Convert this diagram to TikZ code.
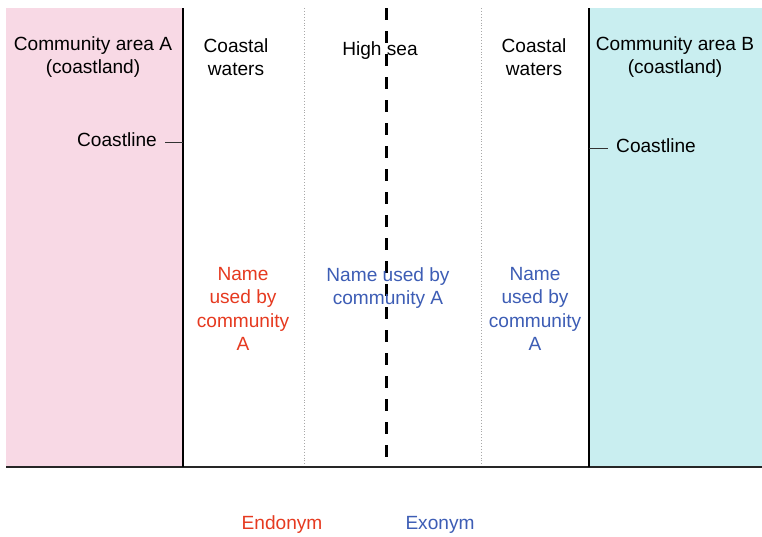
\documentclass[tikz,border=0pt]{standalone}
\usepackage{fontspec}
\setmainfont{Liberation Sans}
\definecolor{landA}{HTML}{F8D9E5}
\definecolor{landB}{HTML}{C9EEF0}
\definecolor{endored}{HTML}{E63A20}
\definecolor{exoblue}{HTML}{3D5DB5}
\definecolor{sepgray}{HTML}{A8A8A8}
\tikzset{
  lbl/.style={inner sep=0pt, align=center, font=\fontsize{19.1}{23.5}\selectfont},
  coast/.style={line width=2.6pt, black},
  zoneline/.style={line width=0.9pt, sepgray, dotted},
  seaborder/.style={line width=3pt, black, dash pattern=on 12pt off 11pt},
  tick/.style={line width=0.8pt, black!80}
}
\begin{document}
\begin{tikzpicture}[x=1pt, y=-1pt]
  \useasboundingbox (0,0) rectangle (762,536);
  \fill[white] (0,0) rectangle (762,536);

  % land areas
  \fill[landA] (6,8) rectangle (183,467);
  \fill[landB] (589,8) rectangle (762,467);

  % boundaries
  \coordinate (cAt) at (183,8);   \coordinate (cAb) at (183,467);
  \coordinate (cBt) at (589,8);   \coordinate (cBb) at (589,467);
  \coordinate (zLt) at (304,8);   \coordinate (zLb) at (304,467);
  \coordinate (zRt) at (481,8);   \coordinate (zRb) at (481,467);
  \coordinate (hst) at (386,8);   \coordinate (hsb) at (386,467);
  \coordinate (bl) at (6,467);    \coordinate (br) at (762,467);

  \draw[zoneline] (zLt) -- (zLb);
  \draw[zoneline] (zRt) -- (zRb);
  \draw[line width=1.3pt, black!85] (bl) -- (br);
  \draw[coast] (cAt) -- (cAb);
  \draw[coast] (cBt) -- (cBb);
  \draw[seaborder] (hst) -- (hsb);

  % zone titles
  \node[lbl] (areaA) at (93,57) {Community area A\\(coastland)};
  \node[lbl] (cwL) at (236,57) {Coastal\\waters};
  \node[lbl] (high) at (380,51) {High sea};
  \node[lbl] (cwR) at (534,57) {Coastal\\waters};
  \node[lbl] (areaB) at (675,57) {Community area B\\(coastland)};

  % coastline markers
  \node[lbl, anchor=east] (coastA) at (157,140) {Coastline};
  \coordinate (tickA0) at (165,142);
  \coordinate (tickA1) at (183,142);
  \draw[tick] (tickA0) -- (tickA1);
  \node[lbl, anchor=west] (coastB) at (616,146) {Coastline};
  \coordinate (tickB0) at (589,148);
  \coordinate (tickB1) at (608,148);
  \draw[tick] (tickB0) -- (tickB1);

  % names in use
  \node[lbl, text=endored] (nameL) at (243,309) {Name\\used by\\community\\A};
  \node[lbl, text=exoblue] (nameM) at (388,288) {Name used by\\community A};
  \node[lbl, text=exoblue] (nameR) at (535,309) {Name\\used by\\community\\A};

  % legend
  \node[lbl, text=endored] (endo) at (282,525) {Endonym};
  \node[lbl, text=exoblue] (exo) at (440,525) {Exonym};
\end{tikzpicture}
\end{document}
